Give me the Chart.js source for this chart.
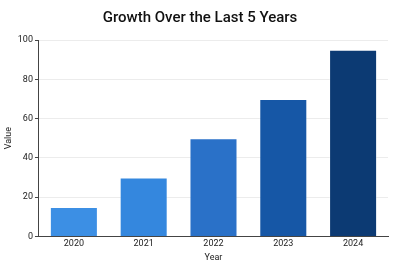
<!DOCTYPE html>
<html>
<head>
<meta charset="utf-8">
<script src="https://cdn.jsdelivr.net/npm/chart.js@4/dist/chart.umd.min.js"></script>
<style>
  html, body { margin: 0; padding: 0; background: #fff; }
  #wrap { width: 400px; height: 266px; }
</style>
</head>
<body>
<div id="wrap"><canvas id="growth-chart"></canvas></div>
<script>
  const years = ['2020', '2021', '2022', '2023', '2024'];
  const values = [15, 30, 50, 70, 95];
  const barColors = ['#3c8fe4', '#3487de', '#2a71c8', '#1657a6', '#0c3a73'];
  const yTicks = [0, 20, 40, 60, 80, 100];

  Chart.defaults.font.family = 'Roboto, "Noto Sans", sans-serif';
  Chart.defaults.color = '#222';

  const ctx = document.getElementById('growth-chart').getContext('2d');
  new Chart(ctx, {
    type: 'bar',
    data: {
      labels: years,
      datasets: [{
        label: 'Value',
        data: values,
        backgroundColor: barColors,
        borderColor: 'rgba(255,255,255,0.35)',
        borderWidth: 1,
        categoryPercentage: 0.8,
        barPercentage: 0.86
      }]
    },
    options: {
      responsive: true,
      maintainAspectRatio: false,
      animation: false,
      layout: { padding: { left: 3, right: 3, top: 6, bottom: 3 } },
      plugins: {
        legend: { display: false },
        tooltip: { enabled: false },
        title: {
          display: true,
          text: 'Growth Over the Last 5 Years',
          color: '#111',
          font: { size: 15, weight: '500' },
          padding: { top: 3, bottom: 13 }
        }
      },
      scales: {
        x: {
          grid: { display: false, drawTicks: false },
          border: { color: '#444', width: 1 },
          ticks: { color: '#222', font: { size: 9 }, padding: 2 },
          title: { display: true, text: 'Year', color: '#222', font: { size: 9 }, padding: { top: 1, bottom: 0 } }
        },
        y: {
          min: 0,
          max: 100,
          afterBuildTicks: axis => { axis.ticks = yTicks.map(v => ({ value: v })); },
          grid: { color: '#ececec', tickColor: '#444', tickLength: 4 },
          border: { color: '#444', width: 1 },
          ticks: { color: '#222', font: { size: 9 }, padding: 2 },
          title: { display: true, text: 'Value', color: '#222', font: { size: 9 }, padding: { top: 0, bottom: 2 } }
        },
        // empty spacer on the right so the plot ends short of the edge
        spacer: {
          position: 'right',
          grid: { display: false, drawTicks: false },
          border: { display: false },
          ticks: { display: false },
          afterFit: scale => { scale.width = 9; }
        }
      }
    }
  });
</script>
</body>
</html>
